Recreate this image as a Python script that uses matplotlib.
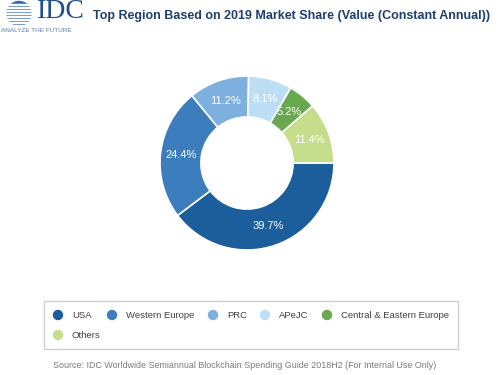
import matplotlib
matplotlib.use("Agg")
import matplotlib.pyplot as plt
from matplotlib.patches import Circle, Rectangle

# data read from the IDC donut
regions = ["USA", "Western Europe", "PRC", "APeJC", "Central & Eastern Europe", "Others"]
shares = [39.7, 24.4, 11.2, 8.1, 5.2, 11.4]
colours = ["#1c5e9c", "#3c7dbd", "#7db0df", "#bcdff6", "#69a84f", "#c6de8c"]

title = "Top Region Based on 2019 Market Share (Value (Constant Annual))"
source = "Source: IDC Worldwide Semiannual Blockchain Spending Guide 2018H2 (For Internal Use Only)"

plt.rcParams['font.family'] = ['Liberation Sans', 'DejaVu Sans']

W, H = 500, 375
fig = plt.figure(figsize=(5, 3.75), dpi=100)
fig.patch.set_facecolor("white")


def fx(px):
    return px / W


def fy(py):
    return 1 - py / H


# donut
cx, cy, r = 247, 163, 87
ax = fig.add_axes([fx(cx - r), fy(cy + r), 2 * r / W, 2 * r / H])
wedges, texts = ax.pie(shares, colors=colours, startangle=0, counterclock=False,
                       radius=1, labels=[f"{s:.1f}%" for s in shares],
                       labeldistance=0.76,
                       wedgeprops=dict(width=0.47, edgecolor="white", linewidth=1.2),
                       textprops=dict(color="white", fontsize=8, ha="center", va="center"))
ax.set_xlim(-1, 1)
ax.set_ylim(-1, 1)
ax.set_aspect("auto")
ax.axis("off")

# logo + frame drawn in pixel coordinates
lax = fig.add_axes([0, 0, 1, 1], zorder=-1)
lax.set_xlim(0, W)
lax.set_ylim(H, 0)
lax.axis("off")
lax.add_patch(Circle((19, 13.5), 12, color="#2e6db4"))
for y in range(2, 26, 3):
    lax.add_patch(Rectangle((5, y + 1.8), 28, 1.0, color="white"))
lax.text(37, 12, "IDC", family="Liberation Serif", fontsize=20, color="#1e4f8f",
         va="center", ha="left")
lax.text(1, 30, "ANALYZE THE FUTURE", fontsize=4.6, color="#5b7fa6", va="center", ha="left")

# title
lax.text(93, 16, title, fontsize=9, fontweight="bold", color="#1f3f6e",
         va="center", ha="left")

# legend box
lax.add_patch(Rectangle((44, 301), 414, 48, facecolor="white", edgecolor="#d0d0d0", linewidth=1))
marker_pos = [(58, 315), (112, 315), (213, 315), (265, 315), (327, 315), (58, 335)]
for (mx, my), name, c in zip(marker_pos, regions, colours):
    lax.add_patch(Circle((mx, my), 4.5, color=c))
    lax.text(mx + 14, my, name, fontsize=6.8, color="#404040", va="center", ha="left")

lax.text(53, 366, source, fontsize=6.4, color="#7a7a7a", va="center", ha="left")

fig.savefig("out.png", dpi=100)
